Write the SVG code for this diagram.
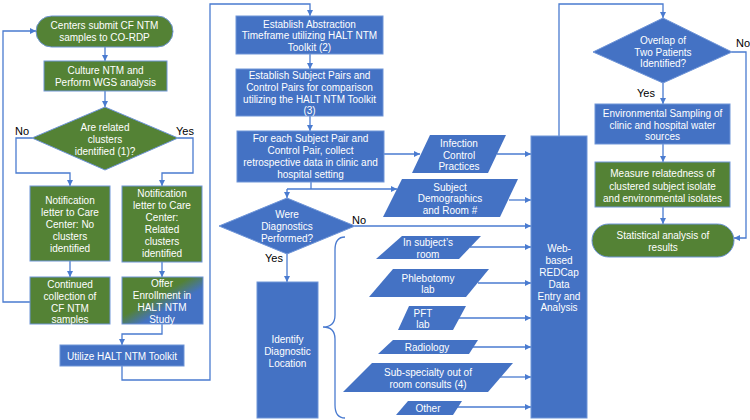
<svg xmlns="http://www.w3.org/2000/svg" width="750" height="420" viewBox="0 0 750 420">
<defs>
<marker id="ah" viewBox="0 0 6 6" refX="6" refY="3" markerWidth="6" markerHeight="6" markerUnits="userSpaceOnUse" orient="auto">
<path d="M0,0 L6,3 L0,6 Z" fill="#4a7bd0"/>
</marker>
<linearGradient id="gb" x1="0" y1="0" x2="1" y2="1">
<stop offset="0.42" stop-color="#548235"/>
<stop offset="0.62" stop-color="#4472c4"/>
</linearGradient>
<style>
.b{fill:#4472c4;stroke:#6f95d8;stroke-width:1}
.g{fill:#548235;stroke:#6f95d8;stroke-width:1}
.p{fill:#4472c4;stroke:none}
text{font-family:"Liberation Sans",Arial,sans-serif;font-size:10px}
.w{fill:#ffffff;text-anchor:middle}
.k{fill:#000000;text-anchor:middle;font-size:11px}
.c path{fill:none;stroke:#4a7bd0;stroke-width:1.3}
.c .a{marker-end:url(#ah)}
</style>
</defs>
<rect width="750" height="420" fill="#ffffff"/>

<g class="c" id="connectors">
<path class="a" d="M105,47 V61"/>
<path class="a" d="M105,91 V107"/>
<path class="a" d="M32,138 H16 V173 H70 V186"/>
<path class="a" d="M178,138 H193 V173 H162 V186"/>
<path class="a" d="M70,261 V277"/>
<path class="a" d="M162,262 V277"/>
<path class="a" d="M30,302 H3 V31 H36"/>
<path class="a" d="M162,324 V334 H122 V345"/>
<path class="a" d="M122,366 V380 H210 V4 H310 V16"/>
<path class="a" d="M310,54 V69"/>
<path class="a" d="M310,116 V131"/>
<path class="a" d="M384,154 H420"/>
<path d="M311,182 V189"/>
<path class="a" d="M287,189 H397"/>
<path class="a" d="M287,189 V198"/>
<path class="a" d="M355,226 H531"/>
<path class="a" d="M287,254 V282"/>
<path class="a" d="M497,154 H531"/>
<path class="a" d="M509,200 H531"/>
<path class="a" d="M470,247 H531"/>
<path class="a" d="M478,283 H531"/>
<path class="a" d="M459,318 H531"/>
<path class="a" d="M473,347 H531"/>
<path class="a" d="M500,377 H531"/>
<path class="a" d="M457,407 H531"/>
<path class="a" d="M559,136 V4 H663 V18"/>
<path class="a" d="M732,52 H746 V238 H734"/>
<path class="a" d="M663,83 V104"/>
<path class="a" d="M663,144 V162"/>
<path class="a" d="M663,207 V224"/>
<path d="M345,237 Q335,237 335,250 V315 Q335,327 323,327 Q335,327 335,339 V405 Q335,418 345,418"/>
</g>

<g id="start">
<rect class="g" x="36" y="16" width="137" height="31" rx="15.5"/>
<text class="w"><tspan x="104.5" y="29">Centers submit CF NTM</tspan><tspan x="104.5" y="41">samples to CO-RDP</tspan></text>
</g>
<g id="culture">
<rect class="g" x="44" y="61" width="123" height="30"/>
<text class="w"><tspan x="105.5" y="74">Culture NTM and</tspan><tspan x="105.5" y="86">Perform WGS analysis</tspan></text>
</g>
<g id="related">
<polygon class="g" points="105,107 178,138 105,170 32,138"/>
<text class="w"><tspan x="105" y="131">Are related</tspan><tspan x="105" y="143">clusters</tspan><tspan x="105" y="155">identified (1)?</tspan></text>
</g>
<text class="k" x="22" y="135">No</text>
<text class="k" x="185" y="135">Yes</text>
<g id="notif-no">
<rect class="g" x="30" y="186" width="80" height="75"/>
<text class="w"><tspan x="70" y="204">Notification</tspan><tspan x="70" y="216">letter to Care</tspan><tspan x="70" y="228">Center: No</tspan><tspan x="70" y="240">clusters</tspan><tspan x="70" y="252">identified</tspan></text>
</g>
<g id="notif-yes">
<rect class="g" x="122" y="186" width="80" height="76"/>
<text class="w"><tspan x="162" y="197">Notification</tspan><tspan x="162" y="209">letter to Care</tspan><tspan x="162" y="221">Center:</tspan><tspan x="162" y="233">Related</tspan><tspan x="162" y="245">clusters</tspan><tspan x="162" y="257">identified</tspan></text>
</g>
<g id="continued">
<rect class="g" x="30" y="277" width="80" height="47"/>
<text class="w"><tspan x="70" y="288">Continued</tspan><tspan x="70" y="300">collection of</tspan><tspan x="70" y="312">CF NTM</tspan><tspan x="70" y="323">samples</tspan></text>
</g>
<g id="offer">
<rect x="122" y="277" width="81" height="47" fill="url(#gb)" stroke="#6f95d8" stroke-width="1"/>
<text class="w"><tspan x="162" y="287">Offer</tspan><tspan x="162" y="299">Enrollment in</tspan><tspan x="162" y="311">HALT NTM</tspan><tspan x="162" y="323">Study</tspan></text>
</g>
<g id="utilize">
<rect class="b" x="60" y="345" width="124" height="21"/>
<text class="w" x="122" y="359.5">Utilize HALT NTM Toolkit</text>
</g>

<g id="abstraction">
<rect class="b" x="236" y="16" width="147" height="38"/>
<text class="w"><tspan x="309.5" y="28">Establish Abstraction</tspan><tspan x="309.5" y="39">Timeframe utilizing HALT NTM</tspan><tspan x="309.5" y="51">Toolkit (2)</tspan></text>
</g>
<g id="pairs">
<rect class="b" x="236" y="69" width="147" height="47"/>
<text class="w"><tspan x="309.5" y="79">Establish Subject Pairs and</tspan><tspan x="309.5" y="91">Control Pairs for comparison</tspan><tspan x="309.5" y="103">utilizing the HALT NTM Toolkit</tspan><tspan x="309.5" y="114">(3)</tspan></text>
</g>
<g id="collect">
<rect class="b" x="237" y="131" width="147" height="51"/>
<text class="w"><tspan x="310.5" y="142">For each Subject Pair and</tspan><tspan x="310.5" y="154">Control Pair, collect</tspan><tspan x="310.5" y="166">retrospective data in clinic and</tspan><tspan x="310.5" y="178">hospital setting</tspan></text>
</g>
<g id="diagnostics">
<polygon class="b" points="287,198 355,226 287,254 219,226"/>
<text class="w"><tspan x="287" y="218">Were</tspan><tspan x="287" y="230">Diagnostics</tspan><tspan x="287" y="242">Performed?</tspan></text>
</g>
<text class="k" x="359" y="224">No</text>
<text class="k" x="274" y="262">Yes</text>
<g id="identify">
<rect class="b" x="257" y="282" width="61" height="136"/>
<text class="w"><tspan x="287.5" y="343">Identify</tspan><tspan x="287.5" y="355">Diagnostic</tspan><tspan x="287.5" y="367">Location</tspan></text>
</g>

<g id="infection">
<polygon class="p" points="430,135 506,135 488,173 412,173"/>
<text class="w"><tspan x="459" y="147">Infection</tspan><tspan x="459" y="159">Control</tspan><tspan x="459" y="170">Practices</tspan></text>
</g>
<g id="demographics">
<polygon class="p" points="402,179 518,179 500,217 383,217"/>
<text class="w"><tspan x="450" y="191">Subject</tspan><tspan x="450" y="202">Demographics</tspan><tspan x="450" y="214">and Room #</tspan></text>
</g>
<g id="room">
<polygon class="p" points="402,236 481,236 459,259 376,259"/>
<text class="w"><tspan x="428" y="246">In subject’s</tspan><tspan x="428" y="258">room</tspan></text>
</g>
<g id="phlebotomy">
<polygon class="p" points="393,269 489,269 466,297 369,297"/>
<text class="w"><tspan x="428" y="282">Phlebotomy</tspan><tspan x="428" y="293">lab</tspan></text>
</g>
<g id="pft">
<polygon class="p" points="409,306 466,306 453,330 398,330"/>
<text class="w"><tspan x="423" y="317">PFT</tspan><tspan x="423" y="328">lab</tspan></text>
</g>
<g id="radiology">
<polygon class="p" points="393,340 478,340 469,354 378,354"/>
<text class="w" x="427" y="351">Radiology</text>
</g>
<g id="subspecialty">
<polygon class="p" points="372,363 513,363 488,392 343,392"/>
<text class="w"><tspan x="428" y="376">Sub-specialty out of</tspan><tspan x="428" y="388">room consults (4)</tspan></text>
</g>
<g id="other">
<polygon class="p" points="408,401 462,401 453,415 396,415"/>
<text class="w" x="428" y="411.5">Other</text>
</g>
<g id="redcap">
<rect class="b" x="531" y="136" width="56" height="282"/>
<text class="w"><tspan x="559" y="252">Web-</tspan><tspan x="559" y="264">based</tspan><tspan x="559" y="276">REDCap</tspan><tspan x="559" y="288">Data</tspan><tspan x="559" y="300">Entry and</tspan><tspan x="559" y="311">Analysis</tspan></text>
</g>

<g id="overlap">
<polygon class="b" points="663,18 732,52 663,83 593,52"/>
<text class="w"><tspan x="663" y="44">Overlap of</tspan><tspan x="663" y="56">Two Patients</tspan><tspan x="663" y="67">Identified?</tspan></text>
</g>
<text class="k" x="743" y="47">No</text>
<text class="k" x="646" y="97">Yes</text>
<g id="environmental">
<rect class="b" x="595" y="104" width="135" height="40"/>
<text class="w"><tspan x="662.5" y="117">Environmental Sampling of</tspan><tspan x="662.5" y="129">clinic and hospital water</tspan><tspan x="662.5" y="140">sources</tspan></text>
</g>
<g id="measure">
<rect class="g" x="595" y="162" width="135" height="45"/>
<text class="w"><tspan x="662.5" y="177">Measure relatedness of</tspan><tspan x="662.5" y="190">clustered subject isolate</tspan><tspan x="662.5" y="202">and environmental isolates</tspan></text>
</g>
<g id="statistical">
<rect class="g" x="592" y="224" width="142" height="33" rx="16.5"/>
<text class="w"><tspan x="663" y="239">Statistical analysis of</tspan><tspan x="663" y="251">results</tspan></text>
</g>
</svg>
